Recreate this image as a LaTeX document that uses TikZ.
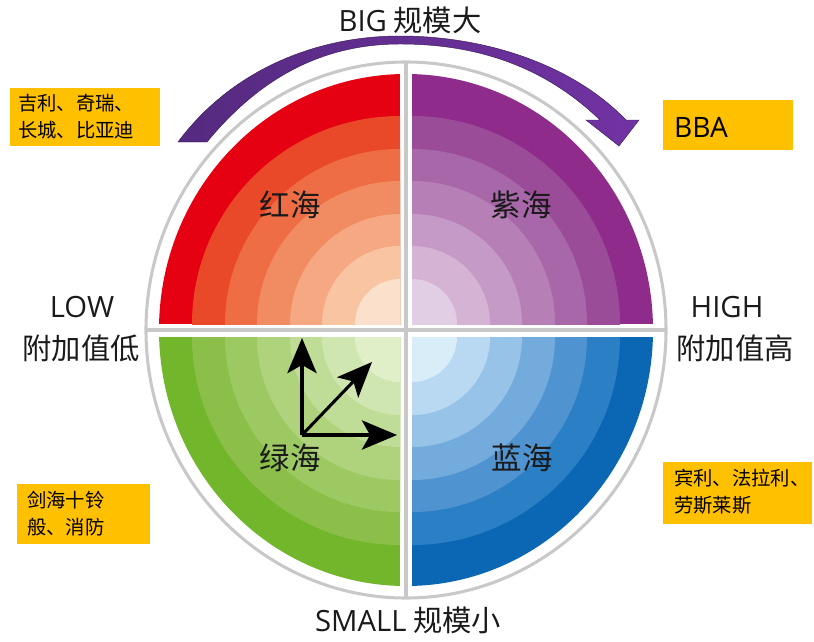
\documentclass[tikz,border=0pt]{standalone}
\usepackage{fontspec}
\setmainfont{Noto Sans CJK SC}
\newfontfamily\lat{Open Sans}
\usetikzlibrary{arrows.meta}
\definecolor{r1}{HTML}{FBE0CB}\definecolor{r2}{HTML}{F8C4A2}\definecolor{r3}{HTML}{F5A882}
\definecolor{r4}{HTML}{F18B61}\definecolor{r5}{HTML}{EE6D45}\definecolor{r6}{HTML}{E94929}\definecolor{r7}{HTML}{E50012}
\definecolor{p1}{HTML}{E1CEE4}\definecolor{p2}{HTML}{D4B3D4}\definecolor{p3}{HTML}{C69AC6}
\definecolor{p4}{HTML}{B680B6}\definecolor{p5}{HTML}{A867A9}\definecolor{p6}{HTML}{9A4C99}\definecolor{p7}{HTML}{8E2B8B}
\definecolor{g1}{HTML}{E1EFC9}\definecolor{g2}{HTML}{D0E6B0}\definecolor{g3}{HTML}{C0DD97}
\definecolor{g4}{HTML}{AFD37D}\definecolor{g5}{HTML}{9DC963}\definecolor{g6}{HTML}{8BBF49}\definecolor{g7}{HTML}{72B62C}
\definecolor{b1}{HTML}{D9EDF9}\definecolor{b2}{HTML}{B8D9F1}\definecolor{b3}{HTML}{96C3E7}
\definecolor{b4}{HTML}{73ACDC}\definecolor{b5}{HTML}{4F94D1}\definecolor{b6}{HTML}{2A7FC5}\definecolor{b7}{HTML}{0B67B3}
\definecolor{ringgray}{HTML}{C8C8C8}
\definecolor{boxyellow}{HTML}{FFC000}
\definecolor{arrL}{HTML}{552A80}
\definecolor{arrR}{HTML}{7233A3}
\definecolor{txt}{HTML}{1A1A1A}
\tikzset{
  axislabel/.style={font=\fontsize{25}{28}\selectfont, text=txt, inner sep=0pt},
  sealabel/.style={font=\fontsize{26}{30}\selectfont, text=txt, inner sep=0pt},
  ybox/.style={fill=boxyellow, draw=none, inner sep=0pt, anchor=north west},
  boxtext/.style={font=\fontsize{16.5}{23}\selectfont, text=black, align=left, anchor=west, inner sep=0pt},
  grayline/.style={draw=ringgray, line width=3.2pt},
  garrow/.style={draw=black, line width=2.6pt, -{Stealth[length=30pt,width=25pt,inset=7pt]}}
}
\begin{document}
\begin{tikzpicture}[x=0.03cm,y=-0.03cm]
\useasboundingbox (0,0) rectangle (814,641);
% quadrants
\begin{scope}
  \clip (150,50) rectangle (400,324);
  \clip (406,330) ellipse [x radius=7.41cm, y radius=7.68cm];
  \fill[r7] (150,50) rectangle (400,324);
  \foreach \rad/\col in {208/r6,175/r5,143/r4,110/r3,78/r2,45/r1}
    \fill[\col] (400,324) circle[radius=\rad*0.03cm];
\end{scope}
\begin{scope}
  \clip (412,50) rectangle (670,324);
  \clip (406,330) ellipse [x radius=7.41cm, y radius=7.68cm];
  \fill[p7] (412,50) rectangle (670,324);
  \foreach \rad/\col in {208/p6,175/p5,143/p4,110/p3,78/p2,45/p1}
    \fill[\col] (412,324) circle[radius=\rad*0.03cm];
\end{scope}
\begin{scope}
  \clip (150,337) rectangle (400,610);
  \clip (406,330) ellipse [x radius=7.41cm, y radius=7.68cm];
  \fill[g7] (150,337) rectangle (400,610);
  \foreach \rad/\col in {208/g6,175/g5,143/g4,110/g3,78/g2,45/g1}
    \fill[\col] (400,337) circle[radius=\rad*0.03cm];
\end{scope}
\begin{scope}
  \clip (412,337) rectangle (670,610);
  \clip (406,330) ellipse [x radius=7.41cm, y radius=7.68cm];
  \fill[b7] (412,337) rectangle (670,610);
  \foreach \rad/\col in {208/b6,175/b5,143/b4,110/b3,78/b2,45/b1}
    \fill[\col] (412,337) circle[radius=\rad*0.03cm];
\end{scope}
% gray ring and dividers
\draw[draw=ringgray, line width=2.6pt] (406,330) ellipse [x radius=7.8cm, y radius=8.04cm];
\coordinate (hl) at (147,330); \coordinate (hr) at (666,330);
\coordinate (vt) at (406,62); \coordinate (vb) at (406,598);
\draw[grayline] (hl) -- (hr);
\draw[grayline] (vt) -- (vb);
% big curved arrow
\path[left color=arrL, right color=arrR, draw=arrL!70!black, line width=0.4pt]
  (178,142) .. controls (230,72) and (313,36) .. (400,36)
  .. controls (481,36) and (570,62) .. (626,120)
  -- (639,120) -- (619,146) -- (586,120) -- (600,120)
  .. controls (546,68) and (480,44) .. (400,44)
  .. controls (320,44) and (258,80) .. (207,142) -- cycle;
% axis labels
\node[axislabel] (big) at (410,20) {{\lat BIG} 规模大};
\node[axislabel] (small) at (408,620) {{\lat SMALL} 规模小};
\node[axislabel] (low) at (82,307) {\lat LOW};
\node[axislabel] (lowcn) at (81,348) {附加值低};
\node[axislabel] (high) at (727,307) {\lat HIGH};
\node[axislabel] (highcn) at (735,348) {附加值高};
% sea labels
\node[sealabel] (red) at (290,205) {红海};
\node[sealabel] (purple) at (521,205) {紫海};
\node[sealabel] (green) at (290,458) {绿海};
\node[sealabel] (blue) at (522,458) {蓝海};
% green arrows
\coordinate (o) at (302,435);
\coordinate (up) at (302,338);
\coordinate (diag) at (372,362);
\coordinate (rt) at (397,435);
\draw[garrow] (o) -- (up);
\draw[garrow] (o) -- (diag);
\draw[garrow] (o) -- (rt);
% yellow boxes
\node[ybox, minimum width=4.5cm, minimum height=1.74cm] (tlbox) at (10,88) {};
\node[boxtext] (tltext) at (18,117) {吉利、奇瑞、\\长城、比亚迪};
\node[ybox, minimum width=3.9cm, minimum height=1.5cm] (trbox) at (663,100) {};
\node[boxtext, font=\fontsize{24}{28}\selectfont\lat] (trtext) at (674,127) {BBA};
\node[ybox, minimum width=3.99cm, minimum height=1.8cm] (blbox) at (17,484) {};
\node[boxtext] (bltext) at (27,514) {剑海十铃\\般、消防};
\node[ybox, minimum width=4.47cm, minimum height=1.86cm] (brbox) at (663,462) {};
\node[boxtext] (brtext) at (674,492) {宾利、法拉利、\\劳斯莱斯};
\end{tikzpicture}
\end{document}
